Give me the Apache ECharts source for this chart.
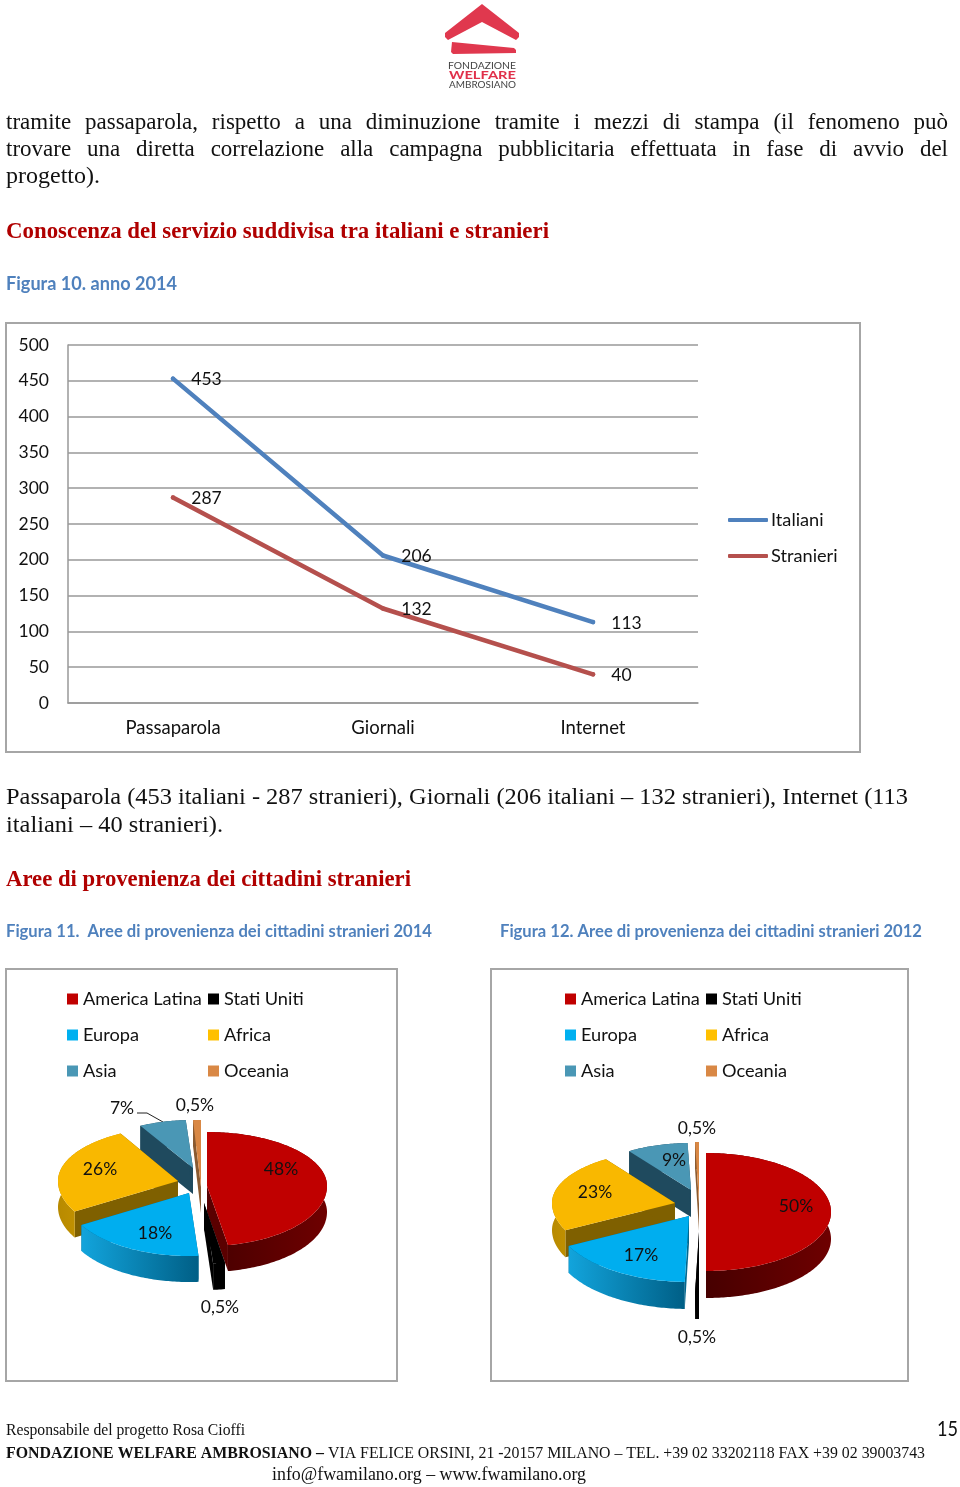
<!DOCTYPE html>
<html>
<head>
<meta charset="utf-8">
<style>html,body{margin:0;padding:0;background:#fff}#c{width:960px;height:1487px}</style>
<script src="https://cdn.jsdelivr.net/npm/echarts@6/dist/echarts.min.js"></script>
</head>
<body>
<div id="c"></div>
<script>
// ---- data ----
var lineCategories = ['Passaparola', 'Giornali', 'Internet'];
var italiani = [453, 206, 113];
var stranieri = [287, 132, 40];
var pieCategories = ['America Latina', 'Stati Uniti', 'Europa', 'Africa', 'Asia', 'Oceania'];
var pie2014 = [48, 0.5, 18, 26, 7, 0.5];
var pie2012 = [50, 0.5, 17, 23, 9, 0.5];

// ---- styling / layout configuration ----
var SERIF = '"Liberation Serif"', SANS = 'Lato';
var topColors = ['#C00000', '#000000', '#00AEEF', '#F9B800', '#4A97B5', '#D98845'];
var legendColors = ['#C00000', '#000000', '#00B0F0', '#FFC000', '#4A97B5', '#D98845'];
var rimColors = [['#6e0000', '#470000'], ['#000000', '#000000'], ['#12a4dc', '#005f86'], ['#d6a100', '#b88a00'], ['#1f4a5e', '#1f4a5e'], ['#8a5a30', '#8a5a30']];
var cutColors = ['#5a0000', '#000000', '#00688f', '#7F6000', '#1F4A5E', '#8a5a30'];
var paintOrder = [4, 5, 3, 0, 2, 1];

var pieLayouts = [
  { depth: 26, minAngle: { 1: 5.7, 5: 3.8 }, slices: [
    { cx: 207, cy: 1186, rx: 120, ryT: 54, ryB: 60, lx: 281, ly: 1169 },
    { cx: 204, cy: 1203, rx: 120, ryT: 54, ryB: 61, lx: 220, ly: 1307 },
    { cx: 189, cy: 1193, rx: 125, ryT: 54, ryB: 63, lx: 155, ly: 1233 },
    { cx: 178, cy: 1181, rx: 120, ryT: 54, ryB: 60, lx: 100, ly: 1169 },
    { cx: 193, cy: 1168, rx: 110, ryT: 48, ryB: 60, lx: 122, ly: 1108 },
    { cx: 201, cy: 1187, rx: 120, ryT: 67, ryB: 60, lx: 195, ly: 1105 }
  ]},
  { depth: 27, minAngle: {}, slices: [
    { cx: 706, cy: 1212, rx: 125, ryT: 59, ryB: 59, lx: 796, ly: 1206 },
    { cx: 699, cy: 1232, rx: 125, ryT: 54, ryB: 60, lx: 697, ly: 1337 },
    { cx: 689, cy: 1216, rx: 135, ryT: 54, ryB: 66, lx: 641, ly: 1255 },
    { cx: 675, cy: 1203, rx: 123, ryT: 53, ryB: 60, lx: 595, ly: 1192 },
    { cx: 691, cy: 1190, rx: 110, ryT: 47, ryB: 60, lx: 674, ly: 1160 },
    { cx: 699, cy: 1204, rx: 125, ryT: 62, ryB: 60, lx: 697, ly: 1128 }
  ]}
];

// ---- helpers ----
var ctx = document.createElement('canvas').getContext('2d');
function measure(str, font) { ctx.font = font; return ctx.measureText(str).width; }
var texts = [];
function nudge(family) { return family === SERIF ? 1.5 : 1; }
function fitText(str, x, y, x2, size, family, fill, bold) {
  var font = (bold ? 'bold ' : '') + size + 'px ' + family;
  var w = measure(str, font);
  texts.push({ type: 'text', x: x, y: y + nudge(family), originX: 0, originY: 0, scaleX: (x2 - x) / w, silent: true,
    style: { text: str, x: 0, y: 0, font: font, fill: fill, verticalAlign: 'middle', align: 'left' } });
}
function justified(str, x, y, x2, size, family, fill) {
  var font = size + 'px ' + family, words = str.split(' ');
  var total = 0; words.forEach(function (wd) { total += measure(wd, font); });
  var gap = (x2 - x - total) / (words.length - 1), cur = x;
  words.forEach(function (wd) {
    texts.push({ type: 'text', x: cur, y: y + nudge(family), silent: true,
      style: { text: wd, x: 0, y: 0, font: font, fill: fill, verticalAlign: 'middle', align: 'left' } });
    cur += measure(wd, font) + gap;
  });
}

// ---- page text ----
var INK = '#111', HEAD = '#B00000', FIG = '#4F81BD';
justified('tramite passaparola, rispetto a una diminuzione tramite i mezzi di stampa (il fenomeno può', 6, 121, 948, 23, SERIF, INK);
justified('trovare una diretta correlazione alla campagna pubblicitaria effettuata in fase di avvio del', 6, 148, 948, 23, SERIF, INK);
fitText('progetto).', 6, 175, 100, 23, SERIF, INK);
fitText('Conoscenza del servizio suddivisa tra italiani e stranieri', 6, 230.5, 549, 23, SERIF, HEAD, true);
fitText('Figura 10. anno 2014', 6, 283.5, 177, 18, SANS, FIG, true);
fitText('Passaparola (453 italiani - 287 stranieri), Giornali (206 italiani – 132 stranieri), Internet (113', 6, 796, 908, 23, SERIF, INK);
fitText('italiani – 40 stranieri).', 6, 824, 223, 23, SERIF, INK);
fitText('Aree di provenienza dei cittadini stranieri', 6, 879, 411, 23, SERIF, HEAD, true);
fitText('Figura 11.  Aree di provenienza dei cittadini stranieri 2014', 6, 930.5, 432, 16.5, SANS, FIG, true);
fitText('Figura 12. Aree di provenienza dei cittadini stranieri 2012', 500, 930.5, 922, 16.5, SANS, FIG, true);
fitText('Responsabile del progetto Rosa Cioffi', 6, 1429.5, 245, 16, SERIF, INK);
fitText('15', 937, 1428, 958, 21, SANS, INK);
fitText('FONDAZIONE WELFARE AMBROSIANO –', 6, 1452.5, 324, 16, SERIF, INK, true);
fitText('VIA FELICE ORSINI, 21 -20157 MILANO – TEL. +39 02 33202118 FAX +39 02 39003743', 328, 1452.5, 925, 16, SERIF, INK);
fitText('info@fwamilano.org – www.fwamilano.org', 272, 1473.5, 586, 18, SERIF, INK);
// logo wordmark
fitText('FONDAZIONE', 448, 64.5, 516, 10, SANS, '#444');
fitText('WELFARE', 449, 74, 516, 12, SANS, '#E0304A', true);
fitText('AMBROSIANO', 449, 83.5, 516, 10, SANS, '#444');

var shapes = [
  { type: 'rect', silent: true, shape: { x: 6, y: 323, width: 854, height: 429 }, style: { fill: 'none', stroke: '#A6A6A6', lineWidth: 2 } },
  { type: 'rect', silent: true, shape: { x: 6, y: 969, width: 391, height: 412 }, style: { fill: 'none', stroke: '#A6A6A6', lineWidth: 2 } },
  { type: 'rect', silent: true, shape: { x: 491, y: 969, width: 417, height: 412 }, style: { fill: 'none', stroke: '#A6A6A6', lineWidth: 2 } },
  { type: 'polygon', silent: true, shape: { points: [[482, 4], [519, 33], [519, 37], [516, 40], [482, 22], [448, 40], [445, 37], [445, 33]] }, style: { fill: '#E0384E' } },
  { type: 'polygon', silent: true, shape: { points: [[452, 42], [514, 48], [516, 50], [516, 53], [453, 54], [451, 52]] }, style: { fill: '#E0384E' } },
  { type: 'polyline', silent: true, shape: { points: [[137, 1113], [147, 1113], [163, 1122]] }, style: { fill: 'none', stroke: '#222', lineWidth: 1 } }
];

// ---- 3D-look pie slices computed from the value arrays ----
function sliceAngles(values, layout) {
  var sum = values.reduce(function (a, b) { return a + b; }, 0), fixed = 0, free = 0;
  var sweeps = values.map(function (v, i) {
    var s = v / sum * 360, m = layout.minAngle[i];
    if (m && s < m) { fixed += m; return m; }
    free += s; return s;
  });
  var k = (360 - fixed) / free, cur = 0;
  return sweeps.map(function (s, i) {
    var sw = layout.minAngle[i] && layout.minAngle[i] === s ? s : s * k;
    var r = [cur, cur + sw]; cur += sw; return r;
  });
}
function pct(v) { return String(v).replace('.', ',') + '%'; }
function makeSliceRenderer(values, layout, i) {
  var ang = sliceAngles(values, layout)[i], s = layout.slices[i], d = layout.depth;
  return function (params, api) {
    var v = api.value(0);
    function pt(deg) {
      var a = deg * Math.PI / 180, c = Math.cos(a);
      return [s.cx + s.rx * Math.sin(a), s.cy - c * (c > 0 ? s.ryT : s.ryB)];
    }
    var rim = [], n = Math.max(2, Math.ceil(ang[1] - ang[0]));
    for (var j = 0; j <= n; j++) rim.push(pt(ang[0] + (ang[1] - ang[0]) * j / n));
    var down = function (p) { return [p[0], p[1] + d]; };
    var apex = [s.cx, s.cy];
    var wall = rim.concat(rim.slice().reverse().map(down));
    var first = rim[0], last = rim[rim.length - 1];
    return { type: 'group', children: [
      { type: 'polygon', shape: { points: [apex, first, down(first), down(apex)] }, style: { fill: cutColors[i] } },
      { type: 'polygon', shape: { points: [apex, last, down(last), down(apex)] }, style: { fill: cutColors[i] } },
      { type: 'polygon', shape: { points: wall }, style: { fill: { type: 'linear', x: i === 2 ? 0 : 1, y: 0, x2: i === 2 ? 1 : 0, y2: 0,
        colorStops: [{ offset: 0, color: rimColors[i][0] }, { offset: 1, color: rimColors[i][1] }] } } },
      { type: 'polygon', shape: { points: [apex].concat(rim) }, style: { fill: topColors[i] } },
      { type: 'text', z2: 10, style: { text: pct(v), x: s.lx, y: s.ly, font: '17.5px ' + SANS, fill: '#111', align: 'center', verticalAlign: 'middle' } }
    ]};
  };
}
var pieSeries = [];
[pie2014, pie2012].forEach(function (values, p) {
  paintOrder.forEach(function (i) {
    pieSeries.push({
      type: 'custom', coordinateSystem: 'none', name: pieCategories[i], silent: true,
      itemStyle: { color: legendColors[i] }, data: [[values[i]]],
      encode: { value: 0 }, renderItem: makeSliceRenderer(values, pieLayouts[p], i)
    });
  });
});

function pieLegend(left, top, names) {
  return { left: left, top: top, orient: 'vertical', icon: 'rect', itemWidth: 11, itemHeight: 11, itemGap: 14,
    data: names, selectedMode: false, padding: 0,
    textStyle: { fontFamily: SANS, fontSize: 18.2, color: '#111', lineHeight: 22 } };
}
var col1 = [pieCategories[0], pieCategories[2], pieCategories[4]];
var col2 = [pieCategories[1], pieCategories[3], pieCategories[5]];

var labelOpt = { show: true, position: 'right', distance: 16, offset: [0, 1], fontFamily: SANS, fontSize: 17.5, color: '#111' };
var GRID = '#999999';
var option = {
  animation: false,
  backgroundColor: '#fff',
  textStyle: { fontFamily: SANS },
  grid: { left: 68, top: 345, width: 630, height: 358, containLabel: false },
  xAxis: { type: 'category', data: lineCategories, boundaryGap: true,
    axisLine: { show: true, lineStyle: { color: GRID, width: 1.5 } }, axisTick: { show: false },
    axisLabel: { interval: 0, margin: 16, fontFamily: SANS, fontSize: 18.5, color: '#111' } },
  yAxis: { type: 'value', min: 0, max: 500, interval: 50,
    axisLine: { show: true, lineStyle: { color: GRID, width: 1.5 } }, axisTick: { show: false },
    splitLine: { show: true, lineStyle: { color: GRID, width: 1.5 } },
    axisLabel: { margin: 19, fontFamily: SANS, fontSize: 17.5, color: '#111' } },
  legend: [
    { left: 728, top: 509, orient: 'vertical', icon: 'roundRect', itemWidth: 40, itemHeight: 4, itemGap: 14, padding: 0, selectedMode: false,
      data: ['Italiani', 'Stranieri'], textStyle: { fontFamily: SANS, fontSize: 18.2, color: '#111', lineHeight: 22, padding: [0, 0, 0, -2] } },
    pieLegend(67, 988, col1), pieLegend(208, 988, col2),
    pieLegend(565, 988, col1), pieLegend(706, 988, col2)
  ],
  graphic: { elements: shapes.concat(texts) },
  series: [
    { type: 'line', name: 'Italiani', data: italiani, symbol: 'circle', symbolSize: 4.5, showAllSymbol: true, color: '#4F81BD',
      itemStyle: { color: '#4F81BD' }, lineStyle: { color: '#4F81BD', width: 4.5, cap: 'round', join: 'round' }, label: labelOpt },
    { type: 'line', name: 'Stranieri', data: stranieri, symbol: 'circle', symbolSize: 4.5, showAllSymbol: true, color: '#B5504D',
      itemStyle: { color: '#B5504D' }, lineStyle: { color: '#B5504D', width: 4.5, cap: 'round', join: 'round' }, label: labelOpt }
  ].concat(pieSeries)
};
var chart = echarts.init(document.getElementById('c'), null, { width: 960, height: 1487 });
chart.setOption(option);
</script>
</body>
</html>
